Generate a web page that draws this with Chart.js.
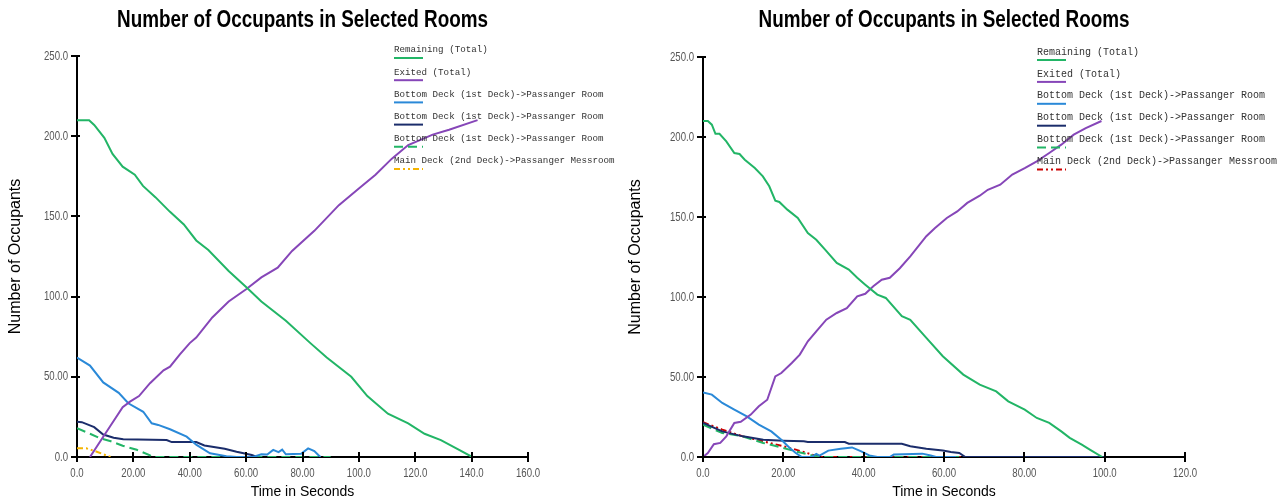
<!DOCTYPE html>
<html>
<head>
<meta charset="utf-8">
<title>Number of Occupants in Selected Rooms</title>
<script src="https://cdn.jsdelivr.net/npm/chart.js@4.4.1/dist/chart.umd.min.js"></script>
<style>
  html, body { margin: 0; padding: 0; background: #fff; }
  canvas { position: absolute; top: 0; }
  #leftChart { left: 0; }
  #rightChart { left: 620px; }
</style>
</head>
<body>
<canvas id="leftChart" width="620" height="501" style="width:620px;height:501px"></canvas>
<canvas id="rightChart" width="662" height="501" style="width:662px;height:501px"></canvas>
<script>
// ---- data (time in s, occupants) ----
const chartTitle = "Number of Occupants in Selected Rooms";
const seriesLabels = [
  "Remaining (Total)",
  "Exited (Total)",
  "Bottom Deck (1st Deck)->Passanger Room",
  "Bottom Deck (1st Deck)->Passanger Room",
  "Bottom Deck (1st Deck)->Passanger Room",
  "Main Deck (2nd Deck)->Passanger Messroom"
];

const yTickLabels = ["0.0", "50.00", "100.0", "150.0", "200.0", "250.0"];
const leftXTickLabels = ["0.0", "20.00", "40.00", "60.00", "80.00", "100.0", "120.0", "140.0", "160.0"];
const rightXTickLabels = ["0.0", "20.00", "40.00", "60.00", "80.00", "100.0", "120.0"];

// left chart
const leftRemaining = [[0,210],[4.3,210],[6.1,207],[9.7,199],[12.6,189],[16.2,181],[20.5,176],[23.4,169],[27.8,162],[32.9,153],[37.9,145],[42.3,135],[46.6,129],[53.8,116],[60,106],[65.4,97],[74.1,85],[82.8,71],[88.6,62],[97.3,50],[103,38],[110.3,27],[117.5,21],[123.3,14.5],[129.1,10.5],[134.9,5],[140.2,0]];
const leftExited = [[4.6,0],[11.7,19],[16.2,31],[18.8,34.5],[22,38],[25.9,46],[30.7,54],[33,56.3],[36.5,64],[40,71],[42.3,74.5],[48,87],[53.8,97],[60,104.6],[65.4,112],[71.2,118],[76.3,128.5],[84.2,141],[92.9,157],[100.1,167.5],[105.9,176],[111.7,186],[117.5,194.5],[126.2,201],[132,204],[142.1,210]];
const leftRoomA = [[0,62],[4.6,57],[9.3,46.5],[14.8,40],[18.2,33.5],[23.5,28.2],[26.5,21],[28.8,20],[33,17.3],[38.9,12.7],[42.4,7.5],[47.2,2.3],[53,0.5],[56.7,0],[62.5,0],[65.4,1.7],[67.5,1.5],[69.6,4.4],[71.5,3],[72.8,4.6],[74.1,1.7],[79.5,2],[82,5.4],[84.2,3.7],[85.6,1.2],[86.4,0]];
const leftRoomB = [[0,22],[1.7,21.7],[6.1,18.6],[9.3,14],[13,12],[16.4,11],[31.8,10.6],[33.6,9.3],[42.3,9.3],[45.2,7.2],[52.4,5.2],[56.6,3.3],[62,1.2],[63.9,0]];
const leftRoomC = [[0,17.9],[4.6,14.5],[8,11.8],[12,9.8],[16.2,7],[21.2,4.5],[25.9,1],[26.5,0],[90,0]];
const leftMessroom = [[0,5.4],[3.3,5.4],[7,3.3],[11.1,0.5],[12,0]];

// right chart
const rightRemaining = [[0,210],[1.2,210],[2.2,207.7],[3.1,202],[4.1,202],[5.8,197.3],[7.8,190],[9.1,189.4],[10.4,185.8],[12.9,180.6],[14.9,175.4],[16.5,169.2],[18,160.2],[19,159.4],[21,154.6],[23.6,149.4],[26.1,140],[28.2,135.8],[30.4,129.6],[33.3,121.3],[36.3,117.1],[38.4,112],[40.4,107.7],[43.4,101.5],[45.5,99.4],[49.5,88],[51.6,85.8],[55.6,74.4],[59.7,63],[64.8,51.5],[68.9,45.2],[73,41],[76,34.8],[80.1,29.6],[83.1,24.4],[86.2,21.3],[89.2,16],[91.3,12],[94.3,7.7],[96.3,4.6],[99.4,0]];
const rightExited = [[0,0],[1.2,2.5],[2.7,8],[4.3,8.8],[5.8,12.9],[7.8,21.3],[9.4,22],[11.9,26.5],[13.9,31.7],[16,35.8],[18,50.4],[19.5,52.5],[22.1,58.8],[24.1,64],[26.1,72.3],[28.2,78.5],[30.7,85.8],[33.3,90],[35.8,93],[38.4,100.4],[40.4,102],[42.4,106.7],[44.5,110.8],[46.5,112],[49,118],[51.6,125.4],[55.6,138],[57.7,143],[60.7,149.4],[63.3,153.5],[65.8,158.8],[68.9,163.3],[70.9,167],[74,170.2],[77,176.5],[80.1,180.6],[83.1,184.8],[86.2,190],[89.2,195.2],[92.3,201.5],[95.3,205.6],[99.2,210]];
const rightRoomA = [[0,40.4],[2.2,39],[4.8,33.8],[7.8,29.6],[10.9,25.4],[13.9,20.2],[17,16],[19.5,10.8],[21.6,5.6],[23.1,2.5],[24.6,0],[27,0],[28.2,1.9],[29,0.8],[31.2,4],[34.3,5.2],[37.1,6],[39.4,3.5],[41.4,1],[43.4,0],[46.5,0],[47.5,1.5],[54.6,2.1],[56.7,1],[58,0],[63,0]];
const rightRoomB = [[0,21.3],[4.8,16],[9.9,12.9],[15,10.8],[20,10.2],[25.1,9.8],[26.1,9.4],[35.3,9.4],[36.3,8.3],[49.5,8.3],[51.6,6.7],[55.6,5.2],[59.7,4],[61.7,3.1],[63.8,2.5],[65.3,0],[100,0]];
const rightRoomC = [[0,20.2],[4.8,15],[9.9,12.9],[15,8.8],[20,5.6],[23.1,3.5],[27.2,1],[29.2,0],[100,0]];
const rightMessroom = [[0,21.7],[4.8,17.1],[9.9,12.9],[15,9.8],[20,6.7],[23.1,4.6],[27.2,1.5],[29.2,0],[100,0]];

// ---- styles ----
const SANS = "'Liberation Sans', Arial, sans-serif";
const lineDashes = [[], [], [], [], [9, 5], [6, 3, 2, 3, 2, 3]];
const leftColors = ["#22b566", "#8646b8", "#2a89d8", "#1b2d6b", "#22b566", "#f5b400"];
const rightColors = ["#22b566", "#8646b8", "#2a89d8", "#1b2d6b", "#22b566", "#cc0000"];

// draw text squeezed horizontally (the original uses a narrow face)
function narrowText(ctx, text, x, y, align, font, sx, color) {
  ctx.save();
  ctx.translate(x, y);
  ctx.scale(sx, 1);
  ctx.font = font;
  ctx.fillStyle = color;
  ctx.textAlign = align;
  ctx.textBaseline = "middle";
  ctx.fillText(text, 0, 0);
  ctx.restore();
}

// title, tick marks crossing the axes, and narrow tick labels
const axisDecor = {
  id: "axisDecor",
  afterDraw(chart, args, opts) {
    const ctx = chart.ctx;
    const area = chart.chartArea;
    const xs = chart.scales.x;
    const ys = chart.scales.y;
    ctx.save();
    ctx.strokeStyle = "#000";
    ctx.lineWidth = 2;
    ctx.beginPath();
    xs.ticks.forEach(t => {
      const px = Math.round(xs.getPixelForValue(t.value));
      ctx.moveTo(px, area.bottom - 5);
      ctx.lineTo(px, area.bottom + 5);
    });
    ys.ticks.forEach(t => {
      const py = Math.round(ys.getPixelForValue(t.value));
      ctx.moveTo(area.left - 6, py);
      ctx.lineTo(area.left + 3, py);
    });
    ctx.stroke();
    ctx.restore();

    const tickFont = "13px " + SANS;
    xs.ticks.forEach((t, i) => {
      narrowText(ctx, opts.xLabels[i], xs.getPixelForValue(t.value), area.bottom + 16,
        "center", tickFont, 0.74, "#555");
    });
    ys.ticks.forEach((t, i) => {
      narrowText(ctx, yTickLabels[i], area.left - 9, ys.getPixelForValue(t.value),
        "right", tickFont, 0.74, "#555");
    });
    narrowText(ctx, chartTitle, (area.left + area.right) / 2, 21,
      "center", "bold 23px " + SANS, 0.82, "#000");
  }
};

// legend: text with a short line sample underneath
const sampleLegend = {
  id: "sampleLegend",
  afterDraw(chart, args, opts) {
    const ctx = chart.ctx;
    ctx.save();
    ctx.font = opts.fontSize + "px 'Liberation Mono', 'DejaVu Sans Mono', monospace";
    ctx.textBaseline = "middle";
    chart.data.datasets.forEach((ds, i) => {
      const y = opts.top + i * opts.rowGap;
      ctx.fillStyle = "#333";
      ctx.fillText(ds.label, opts.left, y);
      ctx.strokeStyle = ds.borderColor;
      ctx.lineWidth = 2;
      ctx.setLineDash(ds.borderDash);
      ctx.beginPath();
      ctx.moveTo(opts.left, y + 8);
      ctx.lineTo(opts.left + 29, y + 8);
      ctx.stroke();
    });
    ctx.restore();
  }
};

function buildChart(id, series, colors, xMax, xLabels, yAxisWidth, topPad, rightPad, legend) {
  const datasets = series.map((s, i) => ({
    label: seriesLabels[i],
    data: s.map(p => ({ x: p[0], y: p[1] })),
    borderColor: colors[i],
    borderDash: lineDashes[i],
    borderWidth: 2,
    pointRadius: 0,
    fill: false,
    tension: 0
  }));

  return new Chart(document.getElementById(id), {
    type: "line",
    data: { datasets: datasets },
    plugins: [axisDecor, sampleLegend],
    options: {
      responsive: false,
      animation: false,
      layout: { padding: { left: 0, right: rightPad, top: topPad, bottom: 0 } },
      plugins: {
        legend: { display: false },
        tooltip: { enabled: false },
        title: { display: false },
        axisDecor: { xLabels: xLabels },
        sampleLegend: legend
      },
      scales: {
        x: {
          type: "linear",
          min: 0,
          max: xMax,
          ticks: { stepSize: 20, display: false },
          grid: { display: false },
          border: { color: "#000", width: 2 },
          title: {
            display: true,
            text: "Time in Seconds",
            color: "#000",
            font: { family: SANS, size: 14 },
            padding: 0
          },
          afterFit: s => { s.height = 44; }
        },
        y: {
          min: 0,
          max: 250,
          ticks: { stepSize: 50, display: false },
          grid: { display: false },
          border: { color: "#000", width: 2 },
          title: {
            display: true,
            text: "Number of Occupants",
            color: "#000",
            font: { family: SANS, size: 16 },
            padding: { top: 6, bottom: 0 }
          },
          afterFit: s => { s.width = yAxisWidth; }
        }
      }
    }
  });
}

buildChart("leftChart",
  [leftRemaining, leftExited, leftRoomA, leftRoomB, leftRoomC, leftMessroom],
  leftColors, 160, leftXTickLabels, 77, 56, 92,
  { left: 394, top: 50, rowGap: 22.2, fontSize: 9.2 });

buildChart("rightChart",
  [rightRemaining, rightExited, rightRoomA, rightRoomB, rightRoomC, rightMessroom],
  rightColors, 120, rightXTickLabels, 83, 57, 97,
  { left: 417, top: 52, rowGap: 21.9, fontSize: 10 });
</script>
</body>
</html>
